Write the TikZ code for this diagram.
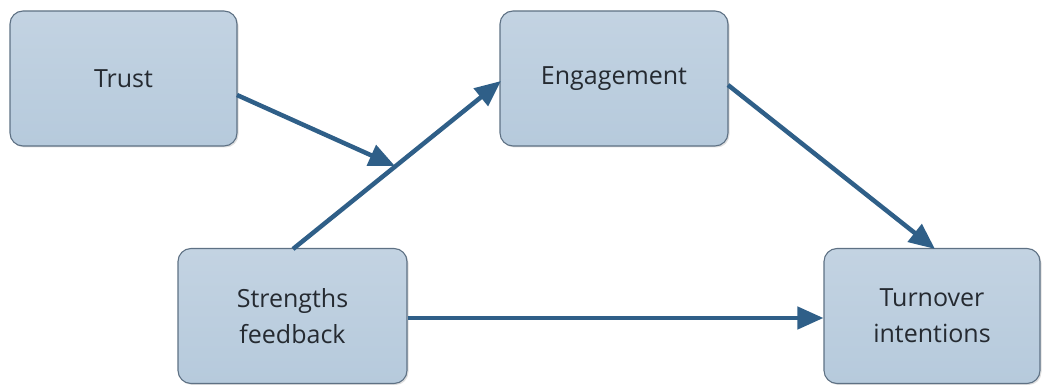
\documentclass[tikz,border=0pt]{standalone}
\usepackage{fontspec}
\setmainfont{Open Sans}
\usetikzlibrary{arrows.meta,shadows}
\definecolor{boxfill}{HTML}{B6CADC}
\definecolor{boxtop}{HTML}{C3D3E2}
\definecolor{boxline}{HTML}{5E7184}
\definecolor{arrowc}{HTML}{2F5F88}
\definecolor{txt}{HTML}{252A31}
\tikzset{
  box/.style={draw=boxline, line width=1.1pt, rounded corners=13pt, top color=boxtop, bottom color=boxfill,
    minimum width=#1, minimum height=135pt, align=center, text=txt, font=\fontsize{25}{36}\selectfont,
    inner sep=0pt, drop shadow={opacity=0.25, shadow xshift=1.5pt, shadow yshift=-1.5pt}},
  conn/.style={draw=arrowc, line width=4.5pt, -{Triangle[length=26pt,width=22pt]}},
}
\begin{document}
\begin{tikzpicture}[x=1pt,y=-1pt]
\useasboundingbox (0,0) rectangle (1044,385);
\node[box=227pt] (trust) at (123.5,78.5) {Trust};
\node[box=228pt] (eng) at (614,78.5) {Engagement};
\node[box=229pt] (str) at (292.5,316) {Strengths\\feedback};
\node[box=216pt] (turn) at (932,316) {Turnover\\intentions};
\coordinate (meet) at (395,166);
\coordinate (trustout) at (237,95);
\coordinate (strout) at (293,249);
\coordinate (engin) at (501,81);
\coordinate (engout) at (728,85);
\coordinate (turnin) at (935,249);
\draw[conn] (trustout) -- (meet);
\draw[conn] (strout) -- (engin);
\draw[conn] (engout) -- (turnin);
\draw[conn] (str.east |- 0,318) -- (turn.west |- 0,318);
\end{tikzpicture}
\end{document}
